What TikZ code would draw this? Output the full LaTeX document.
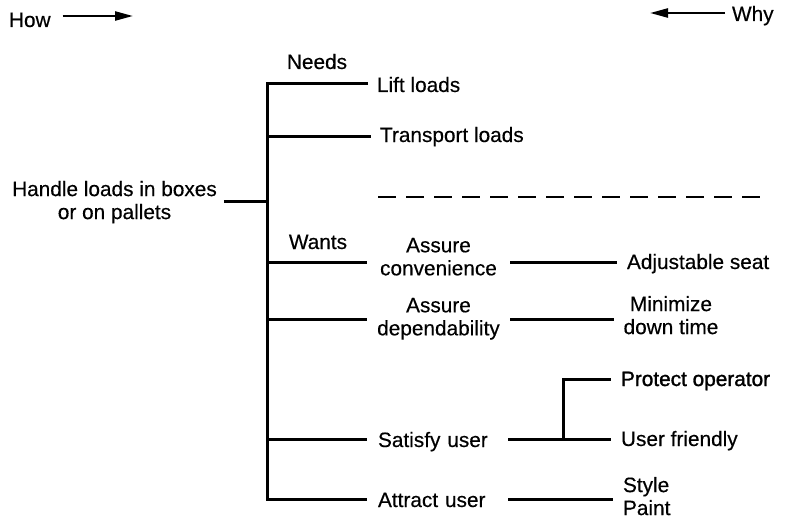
\documentclass[tikz,border=0pt]{standalone}
\usepackage{fontspec}
\setmainfont[FakeBold=0.35]{Liberation Sans}
\newfontfamily\heavyface[FakeBold=1.3]{Liberation Sans}
\usetikzlibrary{arrows.meta}
\begin{document}
\begin{tikzpicture}[x=1pt,y=-1pt,
  txt/.style={inner sep=0pt, outer sep=0pt, font=\fontsize{20.8pt}{23pt}\selectfont},
  stem/.style={txt, outer xsep=9pt},
  mid/.style={txt, text width=143pt, align=center},
  midl/.style={txt, text width=119pt, align=left, outer xsep=11pt},
  leaf/.style={txt, outer xsep=10pt},
  link/.style={line width=3pt},
  sense/.style={line width=2.4pt, -{Triangle[length=18pt,width=9pt]}},
  divider/.style={line width=2.6pt, dash pattern=on 18pt off 10pt}
]
\fill[white] (0,0) rectangle (787,519);
\useasboundingbox (0,0) rectangle (787,519);

% direction key
\node[txt, anchor=base west, outer xsep=12pt] (how) at (-3,27) {How};
\node[txt, anchor=base west, outer xsep=7pt] (why) at (725,21) {Why};
\coordinate (howtip) at (133,16);
\coordinate (whytip) at (650,13);
\draw[sense] (howtip -| how.east) -- (howtip);
\draw[sense] (whytip -| why.west) -- (whytip);

% root function
\node[txt, align=center, anchor=north, outer xsep=7pt] (root) at (114.5,181) {Handle loads in boxes\\or on pallets};

% group labels
\node[txt, anchor=base] (needs) at (317,69) {Needs};
\node[txt, anchor=base] (wants) at (318,249) {Wants};

% first level
\node[stem, anchor=base west] (lift) at (368,92) {Lift loads};
\node[stem, anchor=base west] (transport) at (371,142) {Transport loads};
\node[mid, anchor=north] (conv) at (438.5,238) {Assure\\convenience};
\node[mid, anchor=north] (dep) at (438.5,298) {Assure\\dependability};
\node[midl, anchor=base west] (sat) at (367,447) {Satisfy user};
\node[midl, anchor=base west] (attr) at (367,507) {Attract user};

% second level
\node[leaf, anchor=base west] (seat) at (617,269) {Adjustable seat};
\node[leaf, align=center, anchor=north] (mini) at (671,296) {Minimize\\down time};
\node[leaf, anchor=base west] (prot) at (611,386) {\heavyface Protect operator};
\node[leaf, anchor=base west] (friendly) at (611,446) {User friendly};
\node[leaf, align=left, anchor=north west] (look) at (613,477) {Style\\Paint};

% junction points
\coordinate (rootj) at (267,201);
\coordinate (br1) at (267,83);
\coordinate (br2) at (267,136);
\coordinate (br3) at (267,262);
\coordinate (br4) at (267,319);
\coordinate (br5) at (267,439);
\coordinate (br6) at (267,499);
\coordinate (fork) at (563,439);
\coordinate (forktop) at (563,379);

% trunk and first-level branches
\draw[link] (br1 -| lift.west) -- (br1) -- (br6) -- (br6 -| attr.west);
\draw[link] (rootj -| root.east) -- (rootj);
\draw[link] (br2) -- (br2 -| transport.west);
\draw[link] (br3) -- (br3 -| conv.west);
\draw[link] (br4) -- (br4 -| dep.west);
\draw[link] (br5) -- (br5 -| sat.west);

% needs / wants separator
\draw[divider] (378,197) -- (760,197);

% second-level branches
\draw[link] (br3 -| conv.east) -- (br3 -| seat.west);
\draw[link] (br4 -| dep.east) -- (br4 -| mini.west);
\draw[link] (br5 -| sat.east) -- (br5 -| friendly.west);
\draw[link] (fork) -- (forktop) -- (forktop -| prot.west);
\draw[link] (br6 -| attr.east) -- (br6 -| look.west);
\end{tikzpicture}
\end{document}
